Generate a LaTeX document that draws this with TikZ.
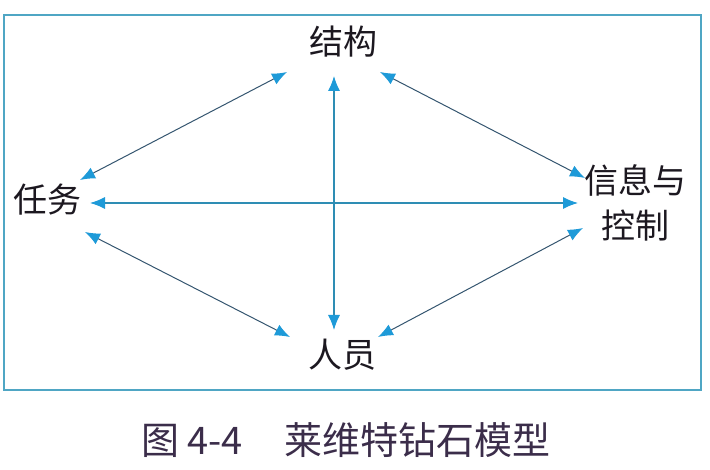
\documentclass[tikz,border=0pt]{standalone}
\usepackage{fontspec}
\setmainfont{Noto Sans CJK SC}
\usetikzlibrary{arrows.meta}
\definecolor{framec}{HTML}{4FA6C4}
\definecolor{diagc}{HTML}{34556F}
\definecolor{axisc}{HTML}{2E8DB4}
\definecolor{tipc}{HTML}{1E9AD8}
\definecolor{textc}{HTML}{1C1820}
\definecolor{capc}{HTML}{3B2D4A}
\tikzset{
  lbl/.style={inner sep=0pt, text=textc, font=\fontsize{34}{45}\selectfont, align=center},
  dia/.style={draw=diagc, line width=1pt, {Latex[length=15pt,width=12pt,color=tipc]}-{Latex[length=15pt,width=12pt,color=tipc]}},
  axis/.style={draw=axisc, line width=1.1pt, {Latex[length=15pt,width=12pt,color=tipc]}-{Latex[length=15pt,width=12pt,color=tipc]}},
}
\begin{document}
\begin{tikzpicture}[x=1pt,y=-1pt]
\useasboundingbox (0,0) rectangle (710,470);
\draw[framec, line width=1.4pt] (4,15) rectangle (701,390);
\node[lbl] (struct) at (343,42) {结构};
\node[lbl] (task) at (47,200) {任务};
\node[lbl] (info) at (635,203) {信息与\\控制};
\node[lbl] (people) at (342,355) {人员};
\draw[dia] ([shift={(33,-20)}]task.center) -- ([shift={(-56,30)}]struct.center);
\draw[dia] ([shift={(37,30)}]struct.center) -- ([shift={(-50,-25)}]info.center);
\draw[dia] ([shift={(38,32)}]task.center) -- ([shift={(-52,-18)}]people.center);
\draw[dia] ([shift={(36,-18)}]people.center) -- ([shift={(-52,25)}]info.center);
\draw[axis] ([shift={(43,3)}]task.center) -- ([shift={(-57,0)}]info.center);
\draw[axis] ([shift={(-9,34)}]struct.center) -- ([shift={(-8,-25)}]people.center);
\node[inner sep=0pt, text=capc, font=\fontsize{38}{42}\selectfont, anchor=west] (cap) at (141,440) {图 4-4\hspace{1.1em}莱维特钻石模型};
\end{tikzpicture}
\end{document}
